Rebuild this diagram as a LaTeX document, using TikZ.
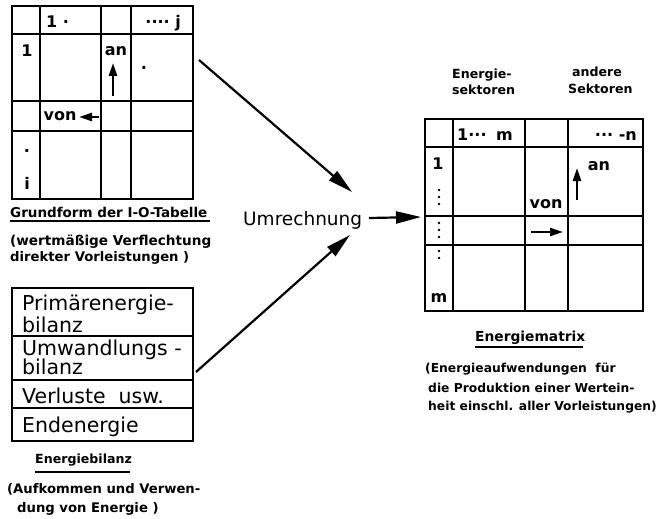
\documentclass[tikz,border=0pt]{standalone}
\usepackage{fontspec}
\setmainfont{DejaVu Sans}
\usetikzlibrary{arrows.meta}
\begin{document}
\begin{tikzpicture}[x=1pt,y=-1pt,
  grid/.style={line width=2.6pt, line cap=rect},
  cell/.style={font=\bfseries\fontsize{16}{16}\selectfont, inner sep=0pt},
  captext/.style={font=\bfseries\fontsize{12.6}{13}\selectfont, inner sep=0pt, anchor=base west},
  boxtext/.style={font=\fontsize{20.5}{20.5}\selectfont, inner sep=0pt, anchor=base west},
  bigarrow/.style={line width=2.2pt, -{Triangle[length=25pt,width=12pt]}},
  smallarrow/.style={line width=2.4pt, -{Triangle[length=13pt,width=8pt]}},
  dotmark/.style={circle, fill, inner sep=0pt, minimum size=2.6pt},
]
\useasboundingbox (0,0) rectangle (672,519);

% ---- basic input-output table
\draw[grid] (12,6) rectangle (193,199);
\draw[grid] (40,6) -- (40,199) (101,6) -- (101,199) (131,6) -- (131,199);
\draw[grid] (12,34) -- (193,34) (12,101) -- (193,101) (12,131) -- (193,131);
\node[cell, anchor=base west] (ioc1) at (46,28) {1 ·};
\node[cell, anchor=base east] (iocj) at (181,28) {···· j};
\node[cell] (ior1) at (27,51) {1};
\node[cell] (ioan) at (116,51) {an};
\coordinate (ioanA) at (113,96);
\coordinate (ioanB) at (113,63);
\draw[smallarrow] (ioanA) -- (ioanB);
\node[cell] (iodot) at (144,70) {·};
\node[cell] (iovon) at (60,116) {von};
\coordinate (iovonA) at (99,117);
\coordinate (iovonB) at (79,117);
\draw[smallarrow] (iovonA) -- (iovonB);
\node[cell] (iorv) at (27,153) {·};
\node[cell] (iori) at (27,183) {i};

\node[captext, font=\bfseries\fontsize{13.5}{14}\selectfont] (iocap) at (10,217) {Grundform der I-O-Tabelle};
\draw[line width=1.3pt] (10,221) -- (210,221);
\node[captext, font=\bfseries\fontsize{13.6}{14}\selectfont] (iocap2) at (10,245) {(wertmäßige Verflechtung};
\node[captext, font=\bfseries\fontsize{13.2}{14}\selectfont] (iocap3) at (10,261) {direkter Vorleistungen )};

% ---- energy balance
\draw[grid] (12,288) rectangle (193,441);
\draw[grid] (12,336) -- (193,336) (12,380) -- (193,380) (12,408) -- (193,408);
\node[boxtext] (eb1) at (22,310) {Primärenergie-};
\node[boxtext] (eb1b) at (22,332) {bilanz};
\node[boxtext] (eb2) at (22,355) {Umwandlungs -};
\node[boxtext] (eb2b) at (22,374) {bilanz};
\node[boxtext] (eb3) at (22,403) {Verluste\ \ usw.};
\node[boxtext] (eb4) at (22,432) {Endenergie};

\node[captext] (ebcap) at (35,463) {Energiebilanz};
\draw[line width=1.3pt] (35,472) -- (130,472);
\node[captext, font=\bfseries\fontsize{13.2}{14}\selectfont] (ebcap2) at (7,493) {(Aufkommen und Verwen-};
\node[captext, font=\bfseries\fontsize{13.2}{14}\selectfont] (ebcap3) at (17,512) {dung von Energie )};

% ---- conversion step
\node[font=\fontsize{18.5}{18.5}\selectfont, inner sep=0pt, anchor=base west] (um) at (243,225) {Umrechnung};
\coordinate (ioOut) at (199,60);
\coordinate (umIn1) at (352,192);
\coordinate (ebOut) at (196,372);
\coordinate (umIn2) at (350,235);
\coordinate (umOut) at (369,218);
\coordinate (mxIn) at (421,217);
\draw[bigarrow] (ioOut) -- (umIn1);
\draw[bigarrow] (ebOut) -- (umIn2);
\draw[bigarrow] (umOut) -- (mxIn);

% ---- energy matrix
\node[captext] (mxh1) at (452,78) {Energie-};
\node[captext] (mxh2) at (452,95) {sektoren};
\node[captext] (mxh3) at (572,77) {andere};
\node[captext] (mxh4) at (568,93) {Sektoren};

\draw[grid] (425,119) rectangle (643,311);
\draw[grid] (453,119) -- (453,311) (525,119) -- (525,311) (568,119) -- (568,311);
\draw[grid] (425,147) -- (643,147) (425,216) -- (643,216) (425,245) -- (643,245);
\node[cell, anchor=base west] (mxc1) at (457,140) {1···};
\node[cell, anchor=base west] (mxcm) at (496,140) {m};
\node[cell, anchor=base east] (mxcn) at (637,140) {··· -n};
\node[cell] (mxr1) at (438,164) {1};
\node[cell] (mxrm) at (439,298) {m};
\foreach \y in {190,197,204,223,230,237,251,258}
  \node[dotmark] at (439,\y) {};
\node[cell] (mxvon) at (546,204) {von};
\coordinate (mxvonA) at (531,232);
\coordinate (mxvonB) at (563,232);
\draw[smallarrow] (mxvonA) -- (mxvonB);
\node[cell] (mxan) at (599,166) {an};
\coordinate (mxanA) at (577,200);
\coordinate (mxanB) at (577,168);
\draw[smallarrow] (mxanA) -- (mxanB);

\node[captext, font=\bfseries\fontsize{13.8}{15}\selectfont] (mxcap) at (475,341) {Energiematrix};
\draw[line width=1.3pt] (475,347) -- (583,347);
\node[captext, font=\bfseries\fontsize{12.3}{13}\selectfont] (mxcap2) at (425,372) {(Energieaufwendungen\ \ für};
\node[captext, font=\bfseries\fontsize{12.3}{13}\selectfont] (mxcap3) at (428,392) {die Produktion einer Wertein-};
\node[captext, font=\bfseries\fontsize{12.3}{13}\selectfont] (mxcap4) at (428,410) {heit einschl. aller Vorleistungen)};
\end{tikzpicture}
\end{document}
